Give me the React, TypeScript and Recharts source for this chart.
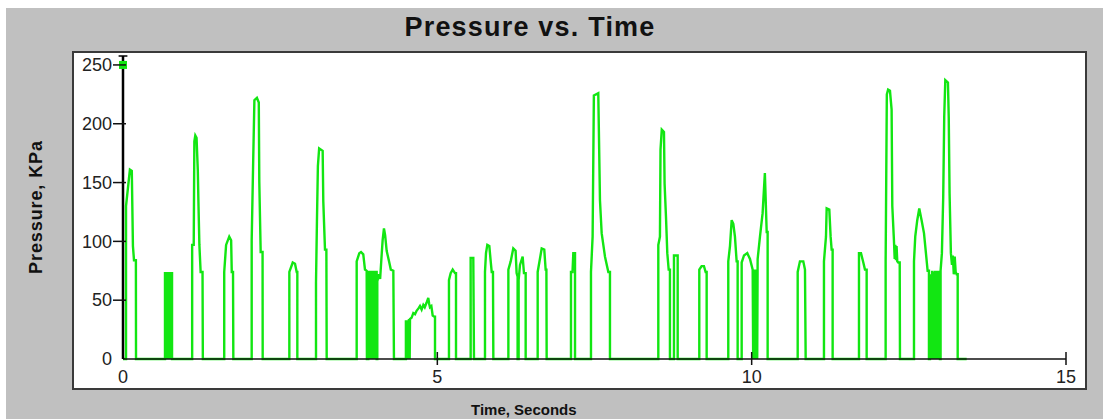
import React from 'react';
import { ComposedChart, Line, Scatter, XAxis, YAxis, ReferenceLine } from 'recharts';

// samples: [seconds, kPa]
const burstsA: [number, number][] = [
  [0, 0], [0.048, 0], [0.048, 130], [0.11, 161], [0.14, 160], [0.158, 96], [0.175, 84], [0.205, 84], [0.207, 0],
  [0.668, 0], [0.668, 74], [0.675, 0], [0.682, 74], [0.689, 0], [0.696, 74], [0.703, 0], [0.71, 74], [0.717, 0],
  [0.724, 74], [0.731, 0], [0.738, 74], [0.745, 0], [0.752, 74], [0.759, 0], [0.766, 74], [0.773, 0], [0.78, 74], [0.78, 0],
  [1.1, 0], [1.1, 97], [1.125, 97], [1.135, 185], [1.15, 190], [1.17, 188], [1.19, 160], [1.2, 133], [1.215, 97],
  [1.235, 74], [1.265, 74], [1.27, 0],
  [1.61, 0], [1.61, 74], [1.64, 97], [1.69, 104], [1.72, 101], [1.73, 74], [1.75, 74], [1.755, 0],
  [2.047, 0], [2.047, 101], [2.07, 166], [2.09, 220], [2.13, 222], [2.16, 218], [2.168, 151], [2.19, 91], [2.22, 91], [2.222, 0],
];

const burstsB: [number, number][] = [
  [2.646, 0], [2.646, 74], [2.7, 82], [2.736, 81], [2.763, 74], [2.773, 74], [2.773, 0],
  [3.07, 0], [3.07, 65], [3.085, 117], [3.1, 164], [3.12, 179], [3.176, 177], [3.186, 134], [3.213, 93], [3.235, 93], [3.24, 0],
  [3.717, 0], [3.717, 83], [3.759, 90], [3.786, 91], [3.822, 89], [3.849, 76], [3.876, 75], [3.88, 0],
  [3.902, 0], [3.902, 75], [3.915, 0], [3.928, 75], [3.941, 0], [3.954, 75], [3.967, 0], [3.98, 75], [3.993, 0],
  [4.006, 75], [4.02, 0], [4.035, 75], [4.035, 0],
  [4.045, 0], [4.045, 66], [4.07, 72], [4.09, 68], [4.11, 85], [4.13, 101], [4.151, 111], [4.17, 105], [4.194, 92],
  [4.236, 82], [4.26, 76], [4.3, 75], [4.31, 0],
  [4.5, 0], [4.5, 33], [4.512, 0], [4.524, 33], [4.536, 0], [4.548, 34], [4.56, 0], [4.565, 34], [4.59, 35], [4.618, 39],
  [4.645, 38], [4.67, 41], [4.7, 43], [4.724, 45], [4.75, 42], [4.777, 46], [4.8, 44], [4.83, 48], [4.856, 52], [4.87, 47],
  [4.883, 44], [4.905, 45], [4.926, 37], [4.95, 36], [4.963, 36], [4.963, 0],
];

const burstsC: [number, number][] = [
  [5.185, 0], [5.185, 67], [5.212, 73], [5.244, 76], [5.281, 73], [5.297, 73], [5.297, 0],
  [5.53, 0], [5.53, 86], [5.572, 86], [5.583, 0],
  [5.758, 0], [5.758, 74], [5.774, 90], [5.795, 97], [5.827, 96], [5.849, 83], [5.865, 74], [5.885, 74], [5.891, 0],
  [6.13, 0], [6.13, 76], [6.167, 83], [6.208, 94], [6.245, 92], [6.261, 73], [6.277, 70], [6.277, 0],
  [6.293, 0], [6.293, 67], [6.315, 80], [6.357, 87], [6.378, 73], [6.405, 73], [6.405, 0],
  [6.596, 0], [6.596, 74], [6.622, 82], [6.66, 94], [6.701, 93], [6.723, 76], [6.735, 76], [6.739, 0],
  [7.126, 0], [7.126, 74], [7.15, 74], [7.163, 90], [7.19, 90], [7.19, 0],
  [7.444, 0], [7.444, 74], [7.47, 104], [7.49, 224], [7.56, 226], [7.57, 193], [7.587, 135], [7.614, 107],
  [7.667, 87], [7.72, 74], [7.746, 74], [7.746, 0],
];

const burstsD: [number, number][] = [
  [8.515, 0], [8.515, 97], [8.541, 104], [8.55, 178], [8.57, 195], [8.605, 193], [8.615, 149], [8.637, 121],
  [8.658, 90], [8.68, 76], [8.7, 76], [8.7, 0],
  [8.764, 0], [8.764, 88], [8.823, 88], [8.823, 0],
  [9.167, 0], [9.167, 76], [9.204, 79], [9.241, 79], [9.268, 74], [9.284, 74], [9.284, 0],
  [9.628, 0], [9.628, 83], [9.655, 96], [9.682, 118], [9.708, 115], [9.734, 104], [9.761, 83], [9.777, 83], [9.777, 0],
  [9.841, 0], [9.841, 82], [9.878, 88], [9.93, 90], [9.973, 85], [10.016, 76], [10.024, 0], [10.032, 76], [10.04, 0],
  [10.048, 76], [10.056, 0], [10.064, 76], [10.072, 0], [10.08, 76], [10.088, 0],
  [10.095, 85], [10.132, 104], [10.174, 124], [10.21, 158], [10.239, 108], [10.254, 108], [10.254, 0],
];

const burstsE: [number, number][] = [
  [10.732, 0], [10.732, 74], [10.768, 83], [10.821, 83], [10.848, 76], [10.859, 0],
  [11.15, 0], [11.15, 83], [11.182, 104], [11.193, 128], [11.235, 127], [11.256, 104], [11.272, 93], [11.288, 93], [11.288, 0],
  [11.707, 0], [11.707, 90], [11.739, 90], [11.776, 82], [11.802, 76], [11.829, 76], [11.829, 0],
  [12.131, 0], [12.131, 83], [12.15, 225], [12.17, 229], [12.2, 228], [12.226, 212], [12.237, 130], [12.263, 101],
  [12.275, 85], [12.285, 97], [12.295, 84], [12.305, 96], [12.316, 83], [12.332, 82], [12.355, 82], [12.359, 0],
  [12.582, 0], [12.582, 83], [12.602, 104], [12.634, 118], [12.666, 128], [12.703, 118], [12.741, 107], [12.772, 90],
  [12.799, 75], [12.82, 75], [12.82, 0],
  [12.836, 0], [12.843, 62], [12.85, 0], [12.857, 72], [12.864, 0], [12.871, 75], [12.878, 0], [12.885, 60], [12.892, 0],
  [12.899, 74], [12.906, 0], [12.913, 75], [12.92, 0], [12.927, 68], [12.934, 0], [12.941, 75], [12.948, 0], [12.955, 73],
  [12.962, 0], [12.97, 75], [12.978, 0], [12.986, 74], [12.995, 0],
  [13.005, 0], [13.005, 75], [13.026, 90], [13.047, 138], [13.063, 206], [13.08, 237], [13.122, 235], [13.135, 205],
  [13.148, 141], [13.169, 90], [13.186, 80], [13.2, 88], [13.215, 72], [13.23, 87], [13.245, 74], [13.26, 72], [13.277, 72],
  [13.277, 0], [13.42, 0],
];

const cursorTime = 0;
const cursorPressure = 250;

const xTicks = [0, 5, 10, 15];
const yTicks = [0, 50, 100, 150, 200, 250];
const yMax = 257.6;

const series = [...burstsA, ...burstsB, ...burstsC, ...burstsD, ...burstsE].map(([t, p]) => ({ t, p }));
const cursor = [{ t: cursorTime, p: cursorPressure }];

const FONT = '"Liberation Sans", Arial, sans-serif';
const GREEN = '#12e612';

const YTick = (props: any) => {
  const { x, y, payload } = props;
  return (
    <g>
      {payload.value !== 0 && <line x1={x} x2={x + 13} y1={y} y2={y} stroke="#111" strokeWidth={1.5} />}
      <text x={x - 1} y={y} dy="0.35em" textAnchor="end" fontSize={18} fill="#222" fontFamily={FONT}>
        {payload.value}
      </text>
    </g>
  );
};

const XTick = (props: any) => {
  const { x, y, payload } = props;
  return (
    <g>
      {payload.value !== 0 && <line x1={x} x2={x} y1={y - 13} y2={y} stroke="#111" strokeWidth={1.5} />}
      <text x={x} y={y + 18} textAnchor="middle" fontSize={18} fill="#222" fontFamily={FONT}>
        {payload.value}
      </text>
    </g>
  );
};

const CursorSquare = (props: any) => (
  <rect x={props.cx - 4} y={props.cy - 4} width={8} height={8} fill={GREEN} />
);

export default function App() {
  return (
    <div style={{ position: 'absolute', left: 0, top: 0, width: 1103, height: 419, background: '#fff', fontFamily: FONT }}>
      <div style={{ position: 'absolute', left: 6, top: 8, width: 1097, height: 411, background: '#c0c0c0' }} />
      <div
        style={{
          position: 'absolute', left: 72, top: 51, width: 1015, height: 339,
          background: '#fff', border: '2px solid #3a3a3a', boxSizing: 'border-box',
        }}
      />
      <div style={{ position: 'absolute', left: 0, top: 0 }}>
        <ComposedChart width={1103} height={419} margin={{ top: 56, right: 37, bottom: 30, left: 63 }}>
          <Line
            data={series}
            dataKey="p"
            type="linear"
            stroke={GREEN}
            strokeWidth={2.4}
            dot={false}
            isAnimationActive={false}
          />
          <Scatter data={cursor} dataKey="p" shape={CursorSquare} isAnimationActive={false} />
          <XAxis
            dataKey="t"
            type="number"
            domain={[0, 15]}
            ticks={xTicks}
            interval={0}
            height={30}
            tickSize={6}
            tickMargin={0}
            tickLine={false}
            axisLine={{ stroke: '#111', strokeWidth: 1.5 }}
            tick={XTick}
          />
          <YAxis
            dataKey="p"
            type="number"
            domain={[0, yMax]}
            ticks={yTicks}
            interval={0}
            width={60}
            tickSize={10}
            tickMargin={0}
            tickLine={false}
            axisLine={{ stroke: '#000', strokeWidth: 2.5 }}
            tick={YTick}
          />
          <ReferenceLine
            segment={[{ x: -0.07, y: yMax }, { x: 0.07, y: yMax }]}
            stroke="#000"
            strokeWidth={1.5}
            ifOverflow="visible"
          />
        </ComposedChart>
      </div>
      <svg width={1103} height={419} style={{ position: 'absolute', left: 0, top: 0, pointerEvents: 'none' }}>
        <text x={530} y={36} textAnchor="middle" fontSize={27} fontWeight="bold" letterSpacing={1.2} fill="#111" fontFamily={FONT}>
          Pressure vs. Time
        </text>
        <text
          x={42}
          y={207}
          transform="rotate(-90, 42, 207)"
          textAnchor="middle"
          fontSize={18}
          fontWeight="bold"
          letterSpacing={0.9}
          fill="#111"
          fontFamily={FONT}
        >
          Pressure, KPa
        </text>
        <text x={471} y={415} fontSize={15} fontWeight="bold" fill="#111" fontFamily={FONT}>
          Time, Seconds
        </text>
      </svg>
    </div>
  );
}
